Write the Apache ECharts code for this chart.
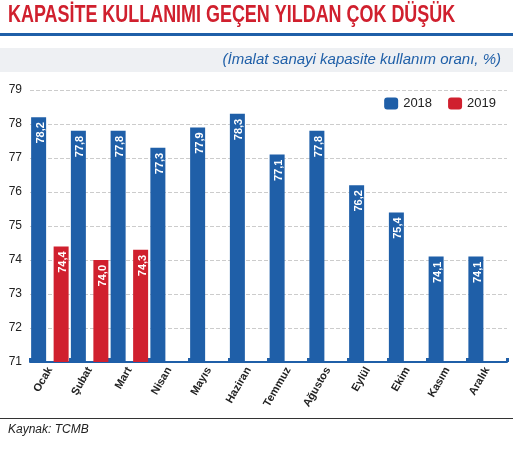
<!DOCTYPE html>
<html><head><meta charset="utf-8">
<script src="https://cdn.jsdelivr.net/npm/echarts@6/dist/echarts.min.js"></script>
<style>body{margin:0;background:#fff}#c{width:513px;height:450px}</style></head>
<body><div id="c"></div>
<script>
const categories=["Ocak","Şubat","Mart","Nisan","Mayıs","Haziran","Temmuz","Ağustos","Eylül","Ekim","Kasım","Aralık"];
const values2018=[78.2,77.8,77.8,77.3,77.9,78.3,77.1,77.8,76.2,75.4,74.1,74.1];
const values2019=[74.4,74.0,74.3,null,null,null,null,null,null,null,null,null];
const yTicks=[71,72,73,74,75,76,77,78,79];
const fmt=v=>v.value.toFixed(1).replace('.',',');
const lbl={show:true,position:'insideTop',rotate:90,align:'right',verticalAlign:'middle',offset:[0,2],color:'#fff',fontWeight:'bold',fontSize:11,formatter:fmt};
const chart=echarts.init(document.getElementById('c'));
chart.setOption({
 animation:false,
 graphic:[
  {type:'text',x:8,y:4,scaleX:0.78,style:{text:'KAPASİTE KULLANIMI GEÇEN YILDAN ÇOK DÜŞÜK',fill:'#d0202e',font:'bold 23px "Liberation Sans", sans-serif'}},
  {type:'rect',shape:{x:0,y:33,width:513,height:3},style:{fill:'#1f5fa8'}},
  {type:'rect',shape:{x:0,y:48,width:513,height:24},style:{fill:'#eef0f3'}},
  {type:'text',right:12,top:52,style:{text:'(İmalat sanayi kapasite kullanım oranı, %)',fill:'#1f5fa8',font:'italic 15px "Liberation Sans", sans-serif'}},
  {type:'rect',shape:{x:0,y:418,width:513,height:1},style:{fill:'#333'}},
  {type:'text',left:8,top:424,style:{text:'Kaynak: TCMB',fill:'#222',font:'italic 12px "Liberation Sans", sans-serif'}}
 ],
 legend:{top:92,right:12,itemWidth:14,itemHeight:12,itemGap:16,textStyle:{fontSize:13,color:'#222'},data:['2018','2019']},
 grid:{left:30,right:6,top:90,bottom:88},
 xAxis:{type:'category',data:categories,axisLine:{lineStyle:{color:'#1f5fa8',width:2}},axisTick:{show:true,alignWithLabel:false,lineStyle:{color:'#1f5fa8',width:3},length:4,inside:true},
  axisLabel:{rotate:60,fontWeight:'bold',fontSize:11,color:'#222',interval:0,margin:6}},
 yAxis:{type:'value',min:71,max:79,interval:1,axisLine:{show:false},axisTick:{show:false},
  axisLabel:{color:'#222',fontSize:12},splitLine:{lineStyle:{color:'#ccc',type:'dashed'}}},
 series:[
  {name:'2018',type:'bar',data:values2018,barWidth:15,barGap:'50%',itemStyle:{color:'#1f5fa8'},label:lbl},
  {name:'2019',type:'bar',data:values2019,barWidth:15,itemStyle:{color:'#d0202e'},label:lbl}
 ]
});
</script></body></html>
